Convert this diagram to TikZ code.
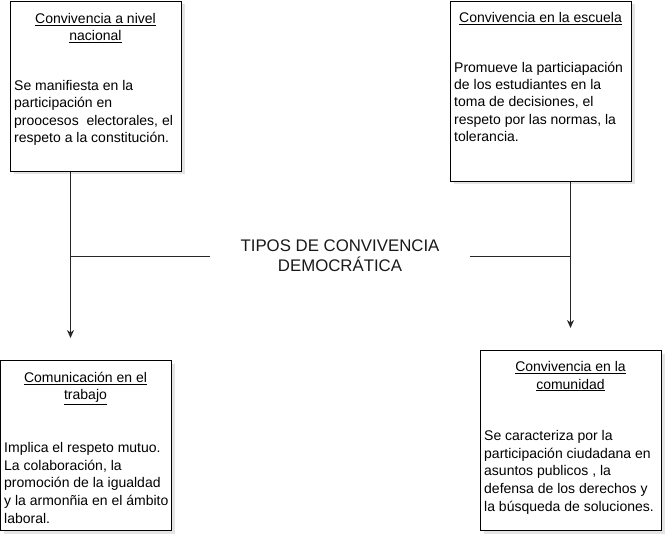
\documentclass[tikz,border=0pt]{standalone}
\usepackage{fontspec}
\setmainfont{Liberation Sans}
\usetikzlibrary{shadows,arrows.meta}
\begin{document}
\begin{tikzpicture}[x=1pt,y=-1pt,
  box/.style={draw=black, line width=1.1pt, fill=white, anchor=north west, inner sep=0pt,
    drop shadow={shadow xshift=3pt, shadow yshift=-3pt, opacity=0.3, fill=gray!70}},
  ttl/.style={font=\fontsize{14}{17.3}\selectfont, align=center, anchor=north, inner sep=0pt},
  bodytxt/.style={font=\fontsize{14}{17.4}\selectfont, align=left, anchor=north west, inner sep=0pt},
  bodytxtb/.style={font=\fontsize{14}{17.8}\selectfont, align=left, anchor=north west, inner sep=0pt},
  conn/.style={line width=1pt, draw=black!85},
  arr/.style={conn, -{Stealth[length=8pt,width=7pt,inset=2.5pt]}}]
\useasboundingbox (0,0) rectangle (672,542);
% boxes
\node[box, minimum width=171pt, minimum height=170pt] (b1) at (10,0.5) {};
\node[box, minimum width=181pt, minimum height=180pt] (b2) at (450,0.5) {};
\node[box, minimum width=171pt, minimum height=170pt] (b3) at (0,360) {};
\node[box, minimum width=181pt, minimum height=180pt] (b4) at (480,350) {};
% box 1
\node[ttl] (t1) at (95.5,13) {\underline{Convivencia a nivel}\\\underline{nacional}};
\node[bodytxt] (d1) at (14,80) {Se manifiesta en la\\participación en\\proocesos\ \ electorales, el\\respeto a la constitución.};
% box 2
\node[ttl] (t2) at (540.5,12.3) {\underline{Convivencia en la escuela}};
\node[bodytxt] (d2) at (454,61.5) {Promueve la particiapación\\de los estudiantes en la\\toma de decisiones, el\\respeto por las normas, la\\tolerancia.};
% box 3
\node[ttl] (t3) at (85.5,372) {\underline{Comunicación en el}\\\underline{trabajo}};
\node[bodytxtb] (d3) at (4,442) {Implica el respeto mutuo.\\La colaboración, la\\promoción de la igualdad\\y la armonñia en el ámbito\\laboral.};
% box 4
\node[ttl] (t4) at (570.5,361.5) {\underline{Convivencia en la}\\\underline{comunidad}};
\node[bodytxtb] (d4) at (484,430) {Se caracteriza por la\\participación ciudadana en\\asuntos publicos , la\\defensa de los derechos y\\la búsqueda de soluciones.};
% central title
\node[font=\fontsize{16.8}{20.2}\selectfont, align=center, minimum width=260pt, inner sep=0pt, text=black!90] (c) at (340,256) {TIPOS DE CONVIVENCIA\\DEMOCRÁTICA};
% connectors
\coordinate (vL) at (70.5,0);
\coordinate (vR) at (570.5,0);
\draw[arr, shorten >=22pt] (b1.south -| vL) -- (b3.north -| vL);
\draw[arr, shorten >=22pt] (b2.south -| vR) -- (b4.north -| vR);
\draw[conn] (c.west) -- (c.west -| vL);
\draw[conn] (c.east) -- (c.east -| vR);
\end{tikzpicture}
\end{document}
